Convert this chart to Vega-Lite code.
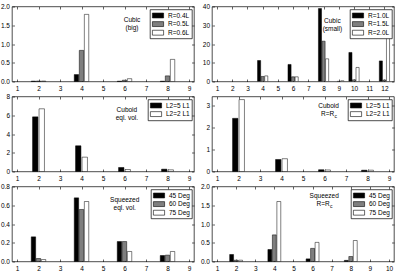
{
 "$schema":"https://vega.github.io/schema/vega-lite/v6.json",
 "padding":{"left":0,"top":2.5,"right":0,"bottom":0},
 "background":"white",
 "columns":2,
 "spacing":{"row":15,"column":18},
 "bounds":"flush",
 "resolve":{"scale":{"x":"independent","y":"independent","color":"independent"},"legend":{"color":"independent"},"axis":{"x":"independent","y":"independent"}},
 "concat":[
  {
   "width":182,"height":75,
   "data":{"values":[
    {"x":2,"v":0.01,"s":"R=0.4L"},{"x":2,"v":0.012,"s":"R=0.5L"},{"x":2,"v":0.012,"s":"R=0.6L"},
    {"x":4,"v":0.185,"s":"R=0.4L"},{"x":4,"v":0.83,"s":"R=0.5L"},{"x":4,"v":1.79,"s":"R=0.6L"},
    {"x":6,"v":0.008,"s":"R=0.4L"},{"x":6,"v":0.035,"s":"R=0.5L"},{"x":6,"v":0.075,"s":"R=0.6L"},
    {"x":8,"v":0.008,"s":"R=0.4L"},{"x":8,"v":0.15,"s":"R=0.5L"},{"x":8,"v":0.59,"s":"R=0.6L"}
   ]},
   "layer":[
    {
     "encoding":{
      "x":{"field":"x","type":"quantitative","scale":{"domain":[1,9],"nice":false,"zero":false},"axis":{"values":[1,2,3,4,5,6,7,8,9],"title":null}},
      "y":{"field":"v","type":"quantitative","scale":{"domain":[0,2],"nice":false},"axis":{"values":[0,0.5,1,1.5,2],"title":null}},
      "color":{"field":"s","type":"nominal","scale":{"domain":["R=0.4L","R=0.5L","R=0.6L"],"range":["#000000","#7f7f7f","#ffffff"]},"legend":{"title":null,"labelExpr":"datum.label + '      '"}}
     },
     "layer":[
      {"transform":[{"filter":{"field":"s","equal":"R=0.4L"}}],"mark":{"type":"bar","width":4.4,"xOffset":-5.05,"stroke":"black","strokeWidth":0.5}},
      {"transform":[{"filter":{"field":"s","equal":"R=0.5L"}}],"mark":{"type":"bar","width":4.4,"stroke":"black","strokeWidth":0.5}},
      {"transform":[{"filter":{"field":"s","equal":"R=0.6L"}}],"mark":{"type":"bar","width":4.4,"xOffset":5.05,"stroke":"black","strokeWidth":0.5}}
     ]
    },
    {"transform":[{"aggregate":[{"op":"count","as":"n"}]}],"mark":{"type":"text","text":["Cubic","(big)"],"align":"center","baseline":"middle","lineHeight":8,"fill":"black"},"encoding":{"x":{"datum":6.35,"type":"quantitative","axis":null},"y":{"datum":1.63,"type":"quantitative","axis":null}}},
    {"mark":{"type":"point","opacity":0},"encoding":{
      "x":{"field":"x","type":"quantitative","scale":{"domain":[1,9],"nice":false,"zero":false},"axis":{"orient":"top","labels":false,"values":[1,2,3,4,5,6,7,8,9],"title":null,"minExtent":0,"maxExtent":0}},
      "y":{"field":"v","type":"quantitative","scale":{"domain":[0,2],"nice":false},"axis":{"orient":"right","labels":false,"values":[0,0.5,1,1.5,2],"title":null,"minExtent":0,"maxExtent":0}}}}
   ],
   "resolve":{"axis":{"x":"independent","y":"independent"}}
  },
  {
   "width":182,"height":75,
   "data":{"values":[
    {"x":4,"v":11.2,"s":"R=1.0L"},{"x":4,"v":2.7,"s":"R=1.5L"},{"x":4,"v":3.0,"s":"R=2.0L"},
    {"x":6,"v":9.1,"s":"R=1.0L"},{"x":6,"v":2.5,"s":"R=1.5L"},{"x":6,"v":2.5,"s":"R=2.0L"},
    {"x":8,"v":38.9,"s":"R=1.0L"},{"x":8,"v":21.5,"s":"R=1.5L"},{"x":8,"v":12.1,"s":"R=2.0L"},
    {"x":9,"v":0.1,"s":"R=1.5L"},{"x":9,"v":0.4,"s":"R=2.0L"},
    {"x":10,"v":15.5,"s":"R=1.0L"},{"x":10,"v":0.9,"s":"R=1.5L"},{"x":10,"v":7.5,"s":"R=2.0L"},
    {"x":12,"v":11.0,"s":"R=1.0L"},{"x":12,"v":0.8,"s":"R=1.5L"},{"x":12,"v":27.2,"s":"R=2.0L"}
   ]},
   "layer":[
    {
     "encoding":{
      "x":{"field":"x","type":"quantitative","scale":{"domain":[1,12.3],"nice":false,"zero":false},"axis":{"values":[1,2,3,4,5,6,7,8,9,10,11,12],"title":null}},
      "y":{"field":"v","type":"quantitative","scale":{"domain":[0,40],"nice":false},"axis":{"values":[0,10,20,30,40],"title":null}},
      "color":{"field":"s","type":"nominal","scale":{"domain":["R=1.0L","R=1.5L","R=2.0L"],"range":["#000000","#7f7f7f","#ffffff"]},"legend":{"title":null,"labelExpr":"datum.label + '      '"}}
     },
     "layer":[
      {"transform":[{"filter":{"field":"s","equal":"R=1.0L"}}],"mark":{"type":"bar","width":3.1,"xOffset":-3.57,"stroke":"black","strokeWidth":0.5,"clip":true}},
      {"transform":[{"filter":{"field":"s","equal":"R=1.5L"}}],"mark":{"type":"bar","width":3.1,"stroke":"black","strokeWidth":0.5,"clip":true}},
      {"transform":[{"filter":{"field":"s","equal":"R=2.0L"}}],"mark":{"type":"bar","width":3.1,"xOffset":3.57,"stroke":"black","strokeWidth":0.5,"clip":true}}
     ]
    },
    {"transform":[{"aggregate":[{"op":"count","as":"n"}]}],"mark":{"type":"text","text":["Cubic","(small)"],"align":"center","baseline":"middle","lineHeight":8,"fill":"black"},"encoding":{"x":{"datum":8.58,"type":"quantitative","axis":null},"y":{"datum":32.5,"type":"quantitative","axis":null}}},
    {"mark":{"type":"point","opacity":0},"encoding":{
      "x":{"field":"x","type":"quantitative","scale":{"domain":[1,12.3],"nice":false,"zero":false},"axis":{"orient":"top","labels":false,"values":[1,2,3,4,5,6,7,8,9,10,11,12],"title":null,"minExtent":0,"maxExtent":0}},
      "y":{"field":"v","type":"quantitative","scale":{"domain":[0,40],"nice":false},"axis":{"orient":"right","labels":false,"values":[0,10,20,30,40],"title":null,"minExtent":0,"maxExtent":0}}}}
   ],
   "resolve":{"axis":{"x":"independent","y":"independent"}}
  },
  {
   "width":182,"height":75,
   "data":{"values":[
    {"x":2,"v":5.83,"s":"L2=5 L1"},{"x":2,"v":6.69,"s":"L2=2 L1"},
    {"x":4,"v":2.74,"s":"L2=5 L1"},{"x":4,"v":1.53,"s":"L2=2 L1"},
    {"x":6,"v":0.43,"s":"L2=5 L1"},{"x":6,"v":0.21,"s":"L2=2 L1"},
    {"x":8,"v":0.25,"s":"L2=5 L1"},{"x":8,"v":0.18,"s":"L2=2 L1"}
   ]},
   "layer":[
    {
     "encoding":{
      "x":{"field":"x","type":"quantitative","scale":{"domain":[1,9],"nice":false,"zero":false},"axis":{"values":[1,2,3,4,5,6,7,8,9],"title":null}},
      "y":{"field":"v","type":"quantitative","scale":{"domain":[0,8],"nice":false},"axis":{"values":[0,2,4,6,8],"title":null}},
      "color":{"field":"s","type":"nominal","scale":{"domain":["L2=5 L1","L2=2 L1"],"range":["#000000","#ffffff"]},"legend":{"title":null,"labelExpr":"datum.label + '      '"}}
     },
     "layer":[
      {"transform":[{"filter":{"field":"s","equal":"L2=5 L1"}}],"mark":{"type":"bar","width":5.4,"xOffset":-3.25,"stroke":"black","strokeWidth":0.5}},
      {"transform":[{"filter":{"field":"s","equal":"L2=2 L1"}}],"mark":{"type":"bar","width":5.4,"xOffset":3.25,"stroke":"black","strokeWidth":0.5}}
     ]
    },
    {"transform":[{"aggregate":[{"op":"count","as":"n"}]}],"mark":{"type":"text","text":["Cuboid","eql. vol."],"align":"center","baseline":"middle","lineHeight":8,"fill":"black"},"encoding":{"x":{"datum":6.11,"type":"quantitative","axis":null},"y":{"datum":6.56,"type":"quantitative","axis":null}}},
    {"mark":{"type":"point","opacity":0},"encoding":{
      "x":{"field":"x","type":"quantitative","scale":{"domain":[1,9],"nice":false,"zero":false},"axis":{"orient":"top","labels":false,"values":[1,2,3,4,5,6,7,8,9],"title":null,"minExtent":0,"maxExtent":0}},
      "y":{"field":"v","type":"quantitative","scale":{"domain":[0,8],"nice":false},"axis":{"orient":"right","labels":false,"values":[0,2,4,6,8],"title":null,"minExtent":0,"maxExtent":0}}}}
   ],
   "resolve":{"axis":{"x":"independent","y":"independent"}}
  },
  {
   "width":182,"height":75,
   "data":{"values":[
    {"x":2,"v":2.41,"s":"L2=5 L1"},{"x":2,"v":3.26,"s":"L2=2 L1"},
    {"x":4,"v":0.545,"s":"L2=5 L1"},{"x":4,"v":0.58,"s":"L2=2 L1"},
    {"x":6,"v":0.08,"s":"L2=5 L1"},{"x":6,"v":0.07,"s":"L2=2 L1"},
    {"x":8,"v":0.06,"s":"L2=5 L1"},{"x":8,"v":0.06,"s":"L2=2 L1"}
   ]},
   "layer":[
    {
     "encoding":{
      "x":{"field":"x","type":"quantitative","scale":{"domain":[1,9],"nice":false,"zero":false},"axis":{"values":[1,2,3,4,5,6,7,8,9],"title":null}},
      "y":{"field":"v","type":"quantitative","scale":{"domain":[0,3.4],"nice":false},"axis":{"values":[0,1,2,3],"title":null}},
      "color":{"field":"s","type":"nominal","scale":{"domain":["L2=5 L1","L2=2 L1"],"range":["#000000","#ffffff"]},"legend":{"title":null,"labelExpr":"datum.label + '      '"}}
     },
     "layer":[
      {"transform":[{"filter":{"field":"s","equal":"L2=5 L1"}}],"mark":{"type":"bar","width":5.4,"xOffset":-3.25,"stroke":"black","strokeWidth":0.5}},
      {"transform":[{"filter":{"field":"s","equal":"L2=2 L1"}}],"mark":{"type":"bar","width":5.4,"xOffset":3.25,"stroke":"black","strokeWidth":0.5}}
     ]
    },
    {"transform":[{"aggregate":[{"op":"count","as":"n"}]}],"mark":{"type":"text","text":"Cuboid","align":"center","baseline":"middle","dy":-4,"fill":"black"},"encoding":{"x":{"datum":6.19,"type":"quantitative","axis":null},"y":{"datum":2.8,"type":"quantitative","axis":null}}},
    {"transform":[{"aggregate":[{"op":"count","as":"n"}]}],"mark":{"type":"text","text":"R=R","align":"center","baseline":"middle","dy":4,"dx":-1,"fill":"black"},"encoding":{"x":{"datum":6.19,"type":"quantitative","axis":null},"y":{"datum":2.8,"type":"quantitative","axis":null}}},
    {"transform":[{"aggregate":[{"op":"count","as":"n"}]}],"mark":{"type":"text","text":"c","align":"left","baseline":"middle","fontSize":5,"dy":6,"dx":5.8,"fill":"black"},"encoding":{"x":{"datum":6.19,"type":"quantitative","axis":null},"y":{"datum":2.8,"type":"quantitative","axis":null}}},
    {"mark":{"type":"point","opacity":0},"encoding":{
      "x":{"field":"x","type":"quantitative","scale":{"domain":[1,9],"nice":false,"zero":false},"axis":{"orient":"top","labels":false,"values":[1,2,3,4,5,6,7,8,9],"title":null,"minExtent":0,"maxExtent":0}},
      "y":{"field":"v","type":"quantitative","scale":{"domain":[0,3.4],"nice":false},"axis":{"orient":"right","labels":false,"values":[0,1,2,3],"title":null,"minExtent":0,"maxExtent":0}}}}
   ],
   "resolve":{"axis":{"x":"independent","y":"independent"}}
  },
  {
   "width":182,"height":75,
   "data":{"values":[
    {"x":2,"v":0.263,"s":"45 Deg"},{"x":2,"v":0.032,"s":"60 Deg"},{"x":2,"v":0.021,"s":"75 Deg"},
    {"x":4,"v":0.679,"s":"45 Deg"},{"x":4,"v":0.555,"s":"60 Deg"},{"x":4,"v":0.64,"s":"75 Deg"},
    {"x":6,"v":0.213,"s":"45 Deg"},{"x":6,"v":0.213,"s":"60 Deg"},{"x":6,"v":0.107,"s":"75 Deg"},
    {"x":8,"v":0.064,"s":"45 Deg"},{"x":8,"v":0.068,"s":"60 Deg"},{"x":8,"v":0.107,"s":"75 Deg"}
   ]},
   "layer":[
    {
     "encoding":{
      "x":{"field":"x","type":"quantitative","scale":{"domain":[1,9],"nice":false,"zero":false},"axis":{"values":[1,2,3,4,5,6,7,8,9],"title":null}},
      "y":{"field":"v","type":"quantitative","scale":{"domain":[0,0.8],"nice":false},"axis":{"values":[0,0.2,0.4,0.6,0.8],"title":null}},
      "color":{"field":"s","type":"nominal","scale":{"domain":["45 Deg","60 Deg","75 Deg"],"range":["#000000","#7f7f7f","#ffffff"]},"legend":{"title":null,"labelExpr":"datum.label + '      '"}}
     },
     "layer":[
      {"transform":[{"filter":{"field":"s","equal":"45 Deg"}}],"mark":{"type":"bar","width":4.4,"xOffset":-5.05,"stroke":"black","strokeWidth":0.5}},
      {"transform":[{"filter":{"field":"s","equal":"60 Deg"}}],"mark":{"type":"bar","width":4.4,"stroke":"black","strokeWidth":0.5}},
      {"transform":[{"filter":{"field":"s","equal":"75 Deg"}}],"mark":{"type":"bar","width":4.4,"xOffset":5.05,"stroke":"black","strokeWidth":0.5}}
     ]
    },
    {"transform":[{"aggregate":[{"op":"count","as":"n"}]}],"mark":{"type":"text","text":["Squeezed","eql. vol."],"align":"center","baseline":"middle","lineHeight":8,"fill":"black"},"encoding":{"x":{"datum":6.01,"type":"quantitative","axis":null},"y":{"datum":0.651,"type":"quantitative","axis":null}}},
    {"mark":{"type":"point","opacity":0},"encoding":{
      "x":{"field":"x","type":"quantitative","scale":{"domain":[1,9],"nice":false,"zero":false},"axis":{"orient":"top","labels":false,"values":[1,2,3,4,5,6,7,8,9],"title":null,"minExtent":0,"maxExtent":0}},
      "y":{"field":"v","type":"quantitative","scale":{"domain":[0,0.8],"nice":false},"axis":{"orient":"right","labels":false,"values":[0,0.2,0.4,0.6,0.8],"title":null,"minExtent":0,"maxExtent":0}}}}
   ],
   "resolve":{"axis":{"x":"independent","y":"independent"}}
  },
  {
   "width":182,"height":75,
   "data":{"values":[
    {"x":2,"v":0.187,"s":"45 Deg"},{"x":2,"v":0.035,"s":"60 Deg"},{"x":2,"v":0.035,"s":"75 Deg"},
    {"x":4,"v":0.32,"s":"45 Deg"},{"x":4,"v":0.71,"s":"60 Deg"},{"x":4,"v":1.6,"s":"75 Deg"},
    {"x":6,"v":0.07,"s":"45 Deg"},{"x":6,"v":0.35,"s":"60 Deg"},{"x":6,"v":0.51,"s":"75 Deg"},
    {"x":8,"v":0.03,"s":"45 Deg"},{"x":8,"v":0.133,"s":"60 Deg"},{"x":8,"v":0.56,"s":"75 Deg"}
   ]},
   "layer":[
    {
     "encoding":{
      "x":{"field":"x","type":"quantitative","scale":{"domain":[1,10],"nice":false,"zero":false},"axis":{"values":[1,2,3,4,5,6,7,8,9,10],"title":null}},
      "y":{"field":"v","type":"quantitative","scale":{"domain":[0,2],"nice":false},"axis":{"values":[0,0.5,1,1.5,2],"title":null}},
      "color":{"field":"s","type":"nominal","scale":{"domain":["45 Deg","60 Deg","75 Deg"],"range":["#000000","#7f7f7f","#ffffff"]},"legend":{"title":null,"labelExpr":"datum.label + '      '"}}
     },
     "layer":[
      {"transform":[{"filter":{"field":"s","equal":"45 Deg"}}],"mark":{"type":"bar","width":3.9,"xOffset":-4.49,"stroke":"black","strokeWidth":0.5}},
      {"transform":[{"filter":{"field":"s","equal":"60 Deg"}}],"mark":{"type":"bar","width":3.9,"stroke":"black","strokeWidth":0.5}},
      {"transform":[{"filter":{"field":"s","equal":"75 Deg"}}],"mark":{"type":"bar","width":3.9,"xOffset":4.49,"stroke":"black","strokeWidth":0.5}}
     ]
    },
    {"transform":[{"aggregate":[{"op":"count","as":"n"}]}],"mark":{"type":"text","text":"Squeezed","align":"center","baseline":"middle","dy":-4,"fill":"black"},"encoding":{"x":{"datum":6.61,"type":"quantitative","axis":null},"y":{"datum":1.63,"type":"quantitative","axis":null}}},
    {"transform":[{"aggregate":[{"op":"count","as":"n"}]}],"mark":{"type":"text","text":"R=R","align":"center","baseline":"middle","dy":4,"dx":-1,"fill":"black"},"encoding":{"x":{"datum":6.61,"type":"quantitative","axis":null},"y":{"datum":1.63,"type":"quantitative","axis":null}}},
    {"transform":[{"aggregate":[{"op":"count","as":"n"}]}],"mark":{"type":"text","text":"c","align":"left","baseline":"middle","fontSize":5,"dy":6,"dx":5.8,"fill":"black"},"encoding":{"x":{"datum":6.61,"type":"quantitative","axis":null},"y":{"datum":1.63,"type":"quantitative","axis":null}}},
    {"mark":{"type":"point","opacity":0},"encoding":{
      "x":{"field":"x","type":"quantitative","scale":{"domain":[1,10],"nice":false,"zero":false},"axis":{"orient":"top","labels":false,"values":[1,2,3,4,5,6,7,8,9,10],"title":null,"minExtent":0,"maxExtent":0}},
      "y":{"field":"v","type":"quantitative","scale":{"domain":[0,2],"nice":false},"axis":{"orient":"right","labels":false,"values":[0,0.5,1,1.5,2],"title":null,"minExtent":0,"maxExtent":0}}}}
   ],
   "resolve":{"axis":{"x":"independent","y":"independent"}}
  }
 ],
 "config":{
  "font":"Liberation Sans",
  "view":{"stroke":"black","strokeWidth":0.7},
  "axis":{"domain":false,"grid":false,"tickSize":-2.5,"tickColor":"black","tickWidth":0.6,"labelFont":"Liberation Sans","labelFontSize":6.5,"labelColor":"black"},
  "axisX":{"labelPadding":6},
  "axisY":{"labelPadding":5},
  "legend":{"orient":"top-right","offset":2.5,"strokeColor":"black","strokeWidth":0.7,"fillColor":"white","padding":2,"labelFont":"Liberation Sans","labelFontSize":6.5,"labelColor":"black","symbolType":"M-1.6,-0.7H1.6V0.7H-1.6Z","symbolSize":49,"symbolStrokeColor":"black","symbolStrokeWidth":0.6,"rowPadding":0.6,"labelOffset":6,"symbolOffset":2},
  "text":{"font":"Liberation Sans","fontSize":6.5}
 }
}
